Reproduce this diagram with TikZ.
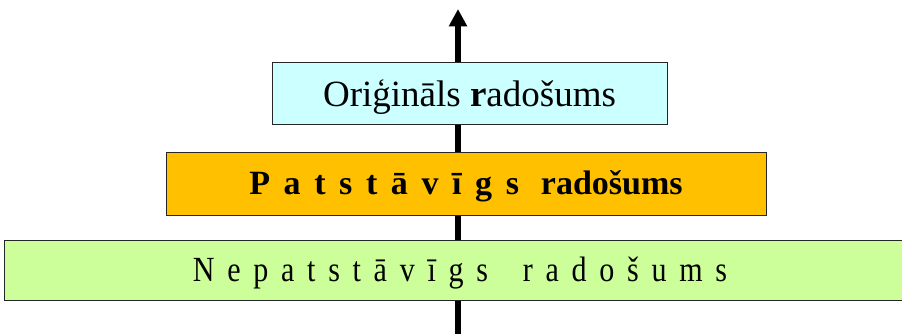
\documentclass[tikz,border=0pt]{standalone}
\usepackage{fontspec}
\setmainfont{Liberation Serif}
\usetikzlibrary{arrows.meta}

\definecolor{origcyan}{HTML}{CCFFFF}
\definecolor{patsorange}{HTML}{FFC000}
\definecolor{nepatsgreen}{HTML}{CCFF99}

\tikzset{
  level/.style={draw=black!85, line width=0.75pt, inner sep=0pt, text depth=0pt},
  axis/.style={line width=4pt, -{Triangle[width=13pt,length=13pt]}}
}

\begin{document}
\begin{tikzpicture}[x=0.75pt,y=-0.75pt]
  \useasboundingbox (0,0) rectangle (902,333);
  % bultas gali
  \coordinate (bot) at (458,340);
  \coordinate (top) at (458,9);
  \draw[axis] (bot) -- (top);
  % limeni
  \node[level, fill=nepatsgreen, minimum width=912*0.75pt, minimum height=60*0.75pt,
        text height=17pt, font=\fontsize{26.5pt}{30pt}\selectfont\addfontfeatures{FakeStretch=0.85,LetterSpace=36}]
        (nepats) at (460,270) {Nepatstāvīgs\hspace{11pt} radošums};
  \node[level, fill=patsorange, minimum width=600*0.75pt, minimum height=63*0.75pt,
        text height=17pt, font=\fontsize{25.5pt}{30pt}\selectfont\bfseries]
        (pats) at (466,183.5) {{\addfontfeatures{LetterSpace=40}Patstāvīgs}\hspace{10pt} radošums};
  \node[level, fill=origcyan, minimum width=395*0.75pt, minimum height=62*0.75pt,
        text height=20pt, font=\fontsize{27.75pt}{32pt}\selectfont]
        (orig) at (469.5,93) {Oriģināls \textbf{r}adošums};
\end{tikzpicture}
\end{document}
